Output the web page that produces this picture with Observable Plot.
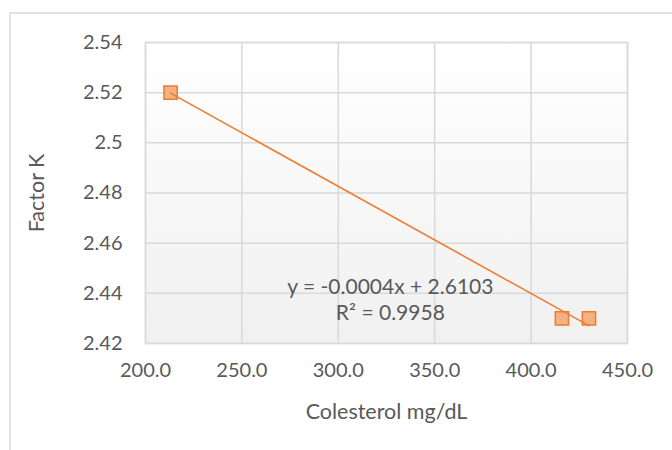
<!DOCTYPE html>
<html>
<head>
<meta charset="utf-8">
<script src="https://cdn.jsdelivr.net/npm/d3@7"></script>
<script src="https://cdn.jsdelivr.net/npm/@observablehq/plot@0.6"></script>
<style>
  html, body { margin: 0; padding: 0; background: #ffffff; }
  #chart { width: 672px; height: 450px; }
</style>
</head>
<body>
<div id="chart"></div>
<script>
// Cholesterol (mg/dL) against the K factor, with a least-squares trend line
const colesterol = [213, 416, 430];
const factorK = [2.52, 2.43, 2.43];

const xTicks = [200, 250, 300, 350, 400, 450];
const yTicks = [2.42, 2.44, 2.46, 2.48, 2.5, 2.52, 2.54];

const xTitle = "Colesterol mg/dL";
const yTitle = "Factor K";
const equationText = ["y = -0.0004x + 2.6103", "R² = 0.9958"];
const equationAt = {x: 327, y: 2.438};

const points = colesterol.map((c, i) => ({colesterol: c, factorK: factorK[i]}));

const orange = "#ed7d31";
const markerFill = "#f4b183";
const gridColor = "#d9d9d9";
const textColor = "#595959";
const tickSize = 20;
const titleSize = 21.5;
const noteSize = 21;

// Plot-area fill fading from white to light grey, plus the chart's outer border
function backdrop(index, scales, values, dimensions) {
  const {width, height, marginTop, marginRight, marginBottom, marginLeft} = dimensions;
  const g = d3.create("svg:g");
  const grad = g.append("defs").append("linearGradient")
    .attr("id", "plot-area-fade")
    .attr("x1", 0).attr("y1", 0).attr("x2", 0).attr("y2", 1);
  grad.append("stop").attr("offset", "0%").attr("stop-color", "#ffffff");
  grad.append("stop").attr("offset", "100%").attr("stop-color", "#f0f0f0");
  g.append("rect")
    .attr("x", marginLeft).attr("y", marginTop)
    .attr("width", width - marginLeft - marginRight)
    .attr("height", height - marginTop - marginBottom)
    .attr("fill", "url(#plot-area-fade)");
  g.append("path")
    .attr("d", `M10,${height}V13H${width}`)
    .attr("fill", "none")
    .attr("stroke", gridColor)
    .attr("stroke-width", 1.5);
  return g.node();
}

const chart = Plot.plot({
  width: 672,
  height: 450,
  marginLeft: 145,
  marginRight: 45,
  marginTop: 42,
  marginBottom: 107,
  style: {
    fontFamily: "Lato, 'Open Sans', sans-serif",
    color: textColor,
    background: "#ffffff"
  },
  x: {domain: [200, 450]},
  y: {domain: [2.42, 2.54]},
  marks: [
    backdrop,
    Plot.gridX(xTicks, {stroke: gridColor, strokeOpacity: 1, strokeWidth: 1.5}),
    Plot.gridY(yTicks, {stroke: gridColor, strokeOpacity: 1, strokeWidth: 1.5}),
    Plot.frame({stroke: gridColor, strokeWidth: 1.5}),
    Plot.axisX({ticks: xTicks, tickFormat: d => d.toFixed(1), tickSize: 0, tickPadding: 19, fontSize: tickSize, label: null}),
    Plot.axisY({ticks: yTicks, tickFormat: d => String(+d.toFixed(2)), tickSize: 0, tickPadding: 23, fontSize: tickSize, label: null}),
    Plot.text([xTitle], {frameAnchor: "bottom", dy: 69, lineAnchor: "middle", fontSize: titleSize, fill: textColor}),
    Plot.text([yTitle], {frameAnchor: "left", dx: -108, rotate: -90, textAnchor: "middle", lineAnchor: "middle", fontSize: titleSize, fill: textColor}),
    Plot.dot(points, {
      x: "colesterol", y: "factorK", symbol: "square", r: 7.5,
      fill: markerFill, stroke: orange, strokeWidth: 1.5
    }),
    Plot.linearRegressionY(points, {x: "colesterol", y: "factorK", ci: 0, stroke: orange, strokeWidth: 1.6}),
    Plot.text([equationText.join("\n")], {
      x: () => equationAt.x, y: () => equationAt.y,
      lineHeight: 1.25, textAnchor: "middle", fontSize: noteSize, fill: textColor
    })
  ]
});

document.getElementById("chart").append(chart);
</script>
</body>
</html>
